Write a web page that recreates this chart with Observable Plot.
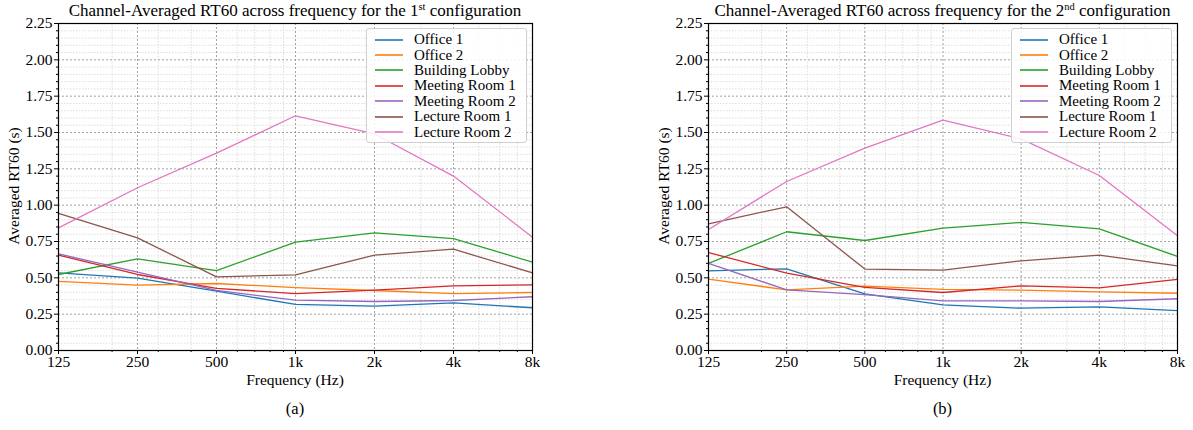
<!DOCTYPE html>
<html>
<head>
<meta charset="utf-8">
<script src="https://cdn.jsdelivr.net/npm/d3@7"></script>
<script src="https://cdn.jsdelivr.net/npm/@observablehq/plot@0.6"></script>
<style>
  html, body { margin: 0; padding: 0; background: white; }
  #fig { position: relative; width: 1193px; height: 430px; font-family: "Liberation Serif", serif; color: #000; overflow: hidden; }
  .abs { position: absolute; }
  .title { font-size: 17px; white-space: nowrap; transform: translateX(-50%); top: 1px; }
  .title sup { font-size: 10.5px; vertical-align: 6px; line-height: 0; }
  .xlabel { font-size: 15.5px; white-space: nowrap; transform: translateX(-50%); top: 371px; }
  .ylabel { font-size: 15.5px; white-space: nowrap; transform: translate(-50%, -50%) rotate(-90deg); }
  .caption { font-size: 16.5px; transform: translateX(-50%); top: 399px; }
  .legend { border: 1px solid #d0d0d0; border-radius: 3px; background: rgba(255,255,255,0.85); padding: 3px 0 2px 0; }
  .legend .row { display: flex; align-items: center; height: 15.4px; font-size: 15px; white-space: nowrap; }
  .legend svg { margin: 0 11px 0 8px; flex: none; }
</style>
</head>
<body>
<div id="fig"></div>
<script>
// ---------- data ----------
const freqs = [125, 250, 500, 1000, 2000, 4000, 8000];
const freqLabels = ["125", "250", "500", "1k", "2k", "4k", "8k"];
const rooms = ["Office 1", "Office 2", "Building Lobby", "Meeting Room 1", "Meeting Room 2", "Lecture Room 1", "Lecture Room 2"];
const colors = ["#1f77b4", "#ff7f0e", "#2ca02c", "#d62728", "#9467bd", "#8c564b", "#e377c2"];

// configuration 1
const c1Office1   = [0.534, 0.498, 0.408, 0.317, 0.305, 0.328, 0.294];
const c1Office2   = [0.475, 0.450, 0.461, 0.433, 0.413, 0.392, 0.399];
const c1Lobby     = [0.523, 0.631, 0.550, 0.745, 0.810, 0.770, 0.608];
const c1Meeting1  = [0.656, 0.523, 0.427, 0.392, 0.415, 0.445, 0.452];
const c1Meeting2  = [0.665, 0.540, 0.413, 0.346, 0.337, 0.344, 0.370];
const c1Lecture1  = [0.943, 0.775, 0.507, 0.520, 0.656, 0.697, 0.534];
const c1Lecture2  = [0.844, 1.120, 1.358, 1.615, 1.490, 1.200, 0.780];

// configuration 2
const c2Office1   = [0.548, 0.562, 0.390, 0.314, 0.291, 0.300, 0.275];
const c2Office2   = [0.491, 0.417, 0.443, 0.420, 0.415, 0.404, 0.394];
const c2Lobby     = [0.599, 0.817, 0.757, 0.842, 0.881, 0.837, 0.647];
const c2Meeting1  = [0.674, 0.532, 0.434, 0.399, 0.445, 0.431, 0.489];
const c2Meeting2  = [0.599, 0.417, 0.385, 0.342, 0.342, 0.337, 0.356];
const c2Lecture1  = [0.872, 0.989, 0.560, 0.553, 0.617, 0.656, 0.583];
const c2Lecture2  = [0.833, 1.163, 1.392, 1.585, 1.456, 1.204, 0.790];

const yMajor = [0, 0.25, 0.5, 0.75, 1, 1.25, 1.5, 1.75, 2, 2.25];
const yMinor = d3.range(0, 46).map(i => i * 0.05).filter((d, i) => i % 5 !== 0);
const xMinor = [200, 300, 400, 600, 700, 800, 900, 3000, 5000, 6000, 7000];

// ---------- chart ----------
function chart(series, width, marginLeft, marginRight) {
  const data = rooms.flatMap((r, i) => series[i].map((v, j) => ({room: r, f: freqs[j], v})));
  return Plot.plot({
    width, height: 395,
    marginTop: 23, marginBottom: 45, marginLeft, marginRight,
    x: {type: "log", domain: [125, 8000]},
    y: {domain: [0, 2.25]},
    color: {domain: rooms, range: colors},
    style: {fontFamily: "Liberation Serif, serif", fontSize: "15.5px", color: "black", background: "transparent", overflow: "visible"},
    marks: [
      Plot.ruleY(yMinor, {stroke: "#c8c8c8", strokeWidth: 0.6, strokeDasharray: "1.5,1.5"}),
      Plot.ruleX(xMinor, {stroke: "#c8c8c8", strokeWidth: 0.6, strokeDasharray: "1.5,1.5"}),
      Plot.ruleY(yMajor, {stroke: "#8a8a8a", strokeWidth: 0.8, strokeDasharray: "2,2"}),
      Plot.ruleX(freqs, {stroke: "#8a8a8a", strokeWidth: 0.8, strokeDasharray: "2,2"}),
      Plot.line(data, {x: "f", y: "v", z: "room", stroke: "room", strokeWidth: 1.3}),
      Plot.frame({stroke: "black", strokeWidth: 1.2}),
      Plot.axisX(freqs, {tickSize: 4, tickFormat: () => "", label: null}),
      Plot.text(freqs, {x: d => d, text: (d, i) => freqLabels[i], frameAnchor: "bottom", lineAnchor: "top", dy: 5, fontSize: 15.5, fill: "black"}),
      Plot.axisX(xMinor, {tickSize: 2, tickFormat: () => "", label: null}),
      Plot.axisY(yMajor, {tickSize: 4, tickPadding: 2, tickFormat: d => d.toFixed(2), label: null, fontSize: 15.5}),
      Plot.axisY(yMinor, {tickSize: 2, tickFormat: () => "", label: null})
    ]
  });
}

const fig = document.getElementById("fig");

function addPanel(left, series, width, mL, mR, ordText, cap) {
  const svg = chart(series, width, mL, mR);
  svg.style.position = "absolute";
  svg.style.left = left + "px";
  svg.style.top = "0px";
  fig.appendChild(svg);
  const x0 = left + mL, x1 = left + width - mR, cx = (x0 + x1) / 2;

  const t = document.createElement("div");
  t.className = "abs title";
  t.style.left = cx + "px";
  t.innerHTML = "Channel-Averaged RT60 across frequency for the " + ordText + " configuration";
  fig.appendChild(t);

  const xl = document.createElement("div");
  xl.className = "abs xlabel";
  xl.style.left = cx + "px";
  xl.textContent = "Frequency (Hz)";
  fig.appendChild(xl);

  const yl = document.createElement("div");
  yl.className = "abs ylabel";
  yl.style.left = (x0 - 44) + "px";
  yl.style.top = "186px";
  yl.textContent = "Averaged RT60 (s)";
  fig.appendChild(yl);

  const c = document.createElement("div");
  c.className = "abs caption";
  c.style.left = cx + "px";
  c.textContent = cap;
  fig.appendChild(c);

  const lg = document.createElement("div");
  lg.className = "abs legend";
  lg.style.left = (x1 - 166) + "px";
  lg.style.top = "28px";
  lg.style.width = "159px";
  rooms.forEach((r, i) => {
    const row = document.createElement("div");
    row.className = "row";
    row.innerHTML = `<svg width="28" height="6"><line x1="0" x2="28" y1="3" y2="3" stroke="${colors[i]}" stroke-width="1.6"/></svg>`;
    const tx = document.createElement("span");
    tx.textContent = r;
    row.appendChild(tx);
    lg.appendChild(row);
  });
  fig.appendChild(lg);
}

addPanel(0,
  [c1Office1, c1Office2, c1Lobby, c1Meeting1, c1Meeting2, c1Lecture1, c1Lecture2],
  596, 58, 64, "1<sup>st</sup>", "(a)");
addPanel(650,
  [c2Office1, c2Office2, c2Lobby, c2Meeting1, c2Meeting2, c2Lecture1, c2Lecture2],
  543, 58, 16, "2<sup>nd</sup>", "(b)");
</script>
</body>
</html>
